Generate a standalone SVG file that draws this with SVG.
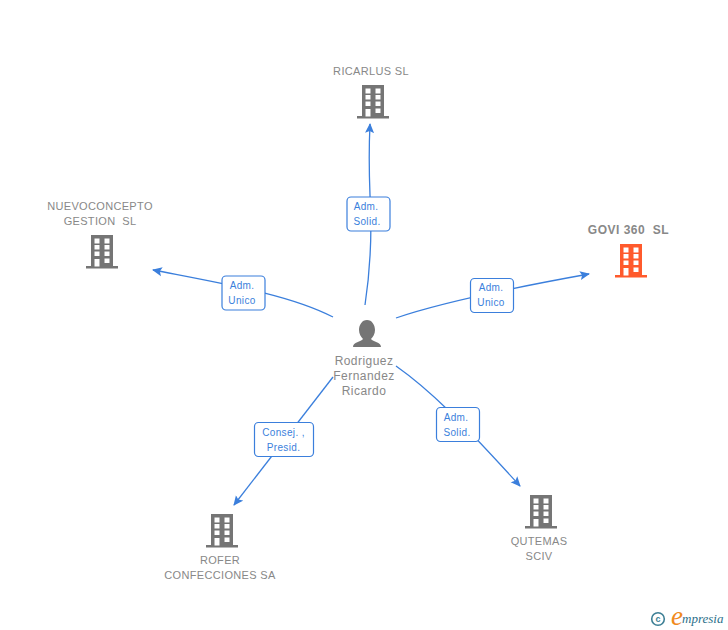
<svg xmlns="http://www.w3.org/2000/svg" width="728" height="630" viewBox="0 0 728 630">
<style>
.n{font-family:"Liberation Sans",Arial,sans-serif;font-size:11px;fill:#888888;text-anchor:middle;letter-spacing:.33px}
.l{font-family:"Liberation Sans",Arial,sans-serif;font-size:10px;fill:#3b7fdc;text-anchor:middle;letter-spacing:.35px}
.c{fill:none;stroke:#3b7fdc;stroke-width:1.3;marker-end:url(#a)}
.b{fill:#fff;stroke:#3b7fdc;stroke-width:1.2}
</style>
<defs>
<marker id="a" markerUnits="userSpaceOnUse" markerWidth="12" markerHeight="12" refX="9" refY="5" orient="auto"><path d="M0 0.500L10 5L0 9.500L2 5Z" fill="#3b7fdc"/></marker>
<symbol id="bld" width="32" height="34" viewBox="0 0 32 34" overflow="visible">
<path fill-rule="evenodd" d="M5 0H27V31H32V33.500H0V31H5ZM8.500 3.500V8.500H13.500V3.500ZM18.500 3.500V8.500H23.500V3.500ZM8.500 10V14.500H13.500V10ZM18.500 10V14.500H23.500V10ZM8.500 16.500V21H13.500V16.500ZM18.500 16.500V21H23.500V16.500ZM8.500 24V31.500H13.500V24ZM18.500 23.500V28H23.500V23.500Z"/>
</symbol>
</defs>
<g id="connectors">
<path class="c" d="M365 305C371 265 372 230 370 195C369 170 369 145 370 124"/>
<path class="c" d="M396 318C440 303 500 290 589 274"/>
<path class="c" d="M333 317C290 295 230 285 153 270"/>
<path class="c" d="M333 377L234 505"/>
<path class="c" d="M396 366C430 390 460 420 520 486"/>
</g>
<g id="edge-label-1"><rect class="b" x="347" y="197" width="43" height="34" rx="4"/><text class="l" x="366" y="210">Adm.</text><text class="l" x="367" y="225">Solid.</text></g>
<g id="edge-label-2"><rect class="b" x="470.500" y="278.500" width="43" height="34" rx="4"/><text class="l" x="491" y="291">Adm.</text><text class="l" x="491" y="306">Unico</text></g>
<g id="edge-label-3"><rect class="b" x="222" y="276" width="43" height="34" rx="4"/><text class="l" x="242" y="289">Adm.</text><text class="l" x="242" y="304">Unico</text></g>
<g id="edge-label-4"><rect class="b" x="254.500" y="422.500" width="59" height="34" rx="4"/><text class="l" x="283.500" y="436">Consej. ,</text><text class="l" x="283.500" y="451">Presid.</text></g>
<g id="edge-label-5"><rect class="b" x="436.500" y="407.500" width="43" height="34" rx="4"/><text class="l" x="456" y="421">Adm.</text><text class="l" x="457" y="436">Solid.</text></g>
<g id="ricarlus"><text class="n" x="371" y="75">RICARLUS SL</text><use href="#bld" x="357" y="85" fill="#757575"/></g>
<g id="govi"><text class="n" x="628.500" y="234" style="font-size:12px;font-weight:bold;letter-spacing:.5px" xml:space="preserve">GOVI 360  SL</text><use href="#bld" x="615" y="244" fill="#ff5a2c"/></g>
<g id="nuevoconcepto"><text class="n" x="100" y="210">NUEVOCONCEPTO</text><text class="n" x="100" y="225" xml:space="preserve">GESTION  SL</text><use href="#bld" x="86" y="235" fill="#757575"/></g>
<g id="rofer"><use href="#bld" x="206" y="514" fill="#757575"/><text class="n" x="220" y="564">ROFER</text><text class="n" x="220" y="579">CONFECCIONES SA</text></g>
<g id="qutemas"><use href="#bld" x="525" y="495" fill="#757575"/><text class="n" x="539" y="545">QUTEMAS</text><text class="n" x="539" y="560">SCIV</text></g>
<g id="person"><path fill="#757575" d="M367 320C372 320 375 325 375 330C375 334 373 337 371 339C373 342 381 342 381 347H353C353 342 361 342 363 339C361 337 359 334 359 330C359 325 362 320 367 320Z"/>
<text class="n" x="364" y="365" style="font-size:12px;letter-spacing:.45px">Rodriguez</text><text class="n" x="364" y="380" style="font-size:12px;letter-spacing:.45px">Fernandez</text><text class="n" x="364" y="395" style="font-size:12px;letter-spacing:.45px">Ricardo</text></g>
<g id="logo"><circle cx="658" cy="619" r="6.300" fill="none" stroke="#3d7f95" stroke-width="1.600"/><text x="658" y="622" font-family="'Liberation Sans',sans-serif" font-size="9" font-weight="bold" fill="#3d7f95" text-anchor="middle">c</text>
<text x="671" y="625" font-family="'Liberation Serif',serif" font-style="italic" font-size="27" fill="#f08a1d">e</text><text x="682" y="623" font-family="'Liberation Serif',serif" font-style="italic" font-size="13" fill="#2c6f8a">mpresia</text></g>
</svg>
